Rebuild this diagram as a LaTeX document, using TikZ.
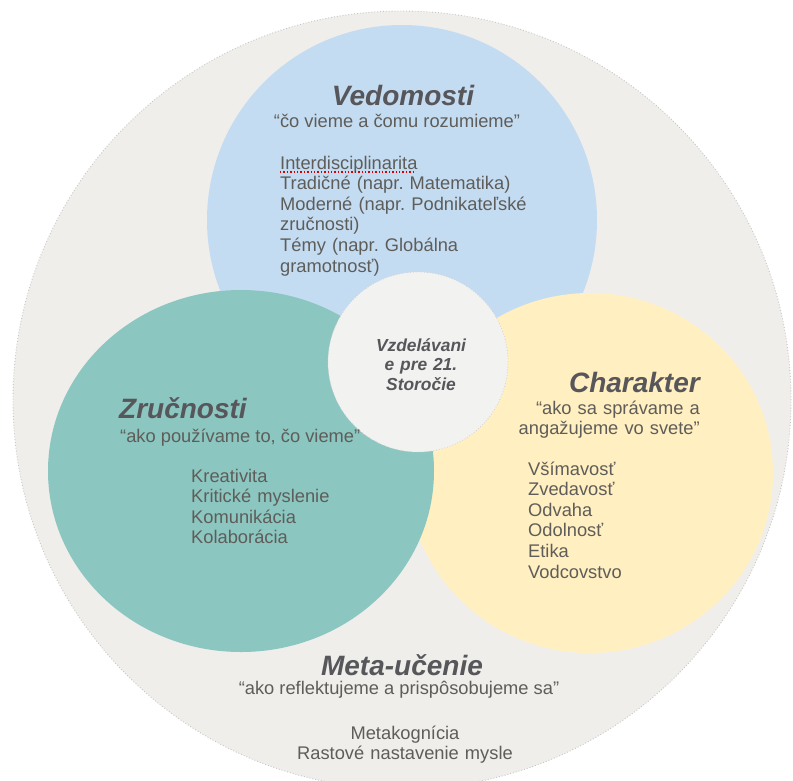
\documentclass[tikz,border=0pt]{standalone}
\usepackage{fontspec}
\setmainfont{Liberation Sans}
\usetikzlibrary{shapes.geometric}
\definecolor{outerc}{HTML}{EFEEEB}
\definecolor{bluec}{HTML}{C4DCF2}
\definecolor{tealc}{HTML}{8CC6C0}
\definecolor{yellowc}{HTML}{FFEFC1}
\definecolor{centerc}{HTML}{F2F2F0}
\definecolor{txtc}{HTML}{5E5D59}
\definecolor{ttlc}{HTML}{57565A}
\frenchspacing
\begin{document}
\begin{tikzpicture}[x=1pt,y=-1pt,
  blob/.style={ellipse, inner sep=0pt, outer sep=0pt},
  ttl/.style={font=\fontsize{28}{30}\selectfont\bfseries\itshape, text=ttlc, inner sep=0pt},
  body/.style={font=\fontsize{18.3}{20.6}\selectfont\frenchspacing, text=txtc, inner sep=0pt},
  ctext/.style={font=\fontsize{17.4}{19.5}\selectfont\bfseries\itshape, text=ttlc, inner sep=0pt, align=center, text width=130pt}]
\useasboundingbox (0,0) rectangle (793,780);
\fill[white] (0,0) rectangle (793,780);
\begin{scope}
\clip (0,0) rectangle (793,780);
% outer meta-learning circle
\node[blob, fill=outerc, draw=gray!45, dotted, line width=0.9pt, minimum width=778pt, minimum height=778pt] (outer) at (402,400) {};
% knowledge
\node[blob, fill=bluec, minimum width=390pt, minimum height=390pt] (know) at (402,220) {};
% character
\node[blob, fill=yellowc, minimum width=366pt, minimum height=360pt] (char) at (590,473) {};
% skills
\node[blob, fill=tealc, minimum width=386pt, minimum height=362pt] (skill) at (241,471) {};
% centre
\node[blob, fill=centerc, draw=gray!35, dotted, line width=0.8pt, minimum width=180pt, minimum height=180pt] (core) at (418,362) {};
\end{scope}

% centre text
\node[ctext, anchor=base] (coretxt) at (421,351) {Vzdelávani\\e pre 21.\\Storočie};

% Vedomosti
\node[ttl, anchor=base] (vt) at (403,105) {Vedomosti};
\node[body, anchor=base] (vq) at (397,127) {“čo vieme a čomu rozumieme”};
\node[body, anchor=base west, text width=270pt, align=left] (vitems) at (280,169)
  {Interdisciplinarita\\Tradičné (napr. Matematika)\\Moderné (napr. Podnikateľské\\zručnosti)\\Témy (napr. Globálna\\gramotnosť)};
\draw[red!85!black, dotted, line width=1.4pt] ([yshift=-3pt]vitems.base west) -- ++(135,0);

% Zručnosti
\node[ttl, anchor=base west] (zt) at (119,418) {Zručnosti};
\node[body, anchor=base west] (zq) at (120,442) {“ako používame to, čo vieme”};
\node[body, anchor=base west, text width=200pt, align=left] (zitems) at (191,482)
  {Kreativita\\Kritické myslenie\\Komunikácia\\Kolaborácia};

% Charakter
\node[ttl, anchor=base east] (ct) at (700,392) {Charakter};
\node[body, anchor=base east, text width=250pt, align=right] (cq) at (700,414)
  {“ako sa správame a\\angažujeme vo svete”};
\node[body, anchor=base west, text width=200pt, align=left] (citems) at (528,475)
  {Všímavosť\\Zvedavosť\\Odvaha\\Odolnosť\\Etika\\Vodcovstvo};

% Meta-učenie
\node[ttl, anchor=base] (mt) at (402,675) {Meta-učenie};
\node[body, anchor=base] (mq) at (399,694) {“ako reflektujeme a prispôsobujeme sa”};
\node[body, anchor=base, text width=300pt, align=center] (mitems) at (405,739)
  {Metakognícia\\Rastové nastavenie mysle};
\end{tikzpicture}
\end{document}
